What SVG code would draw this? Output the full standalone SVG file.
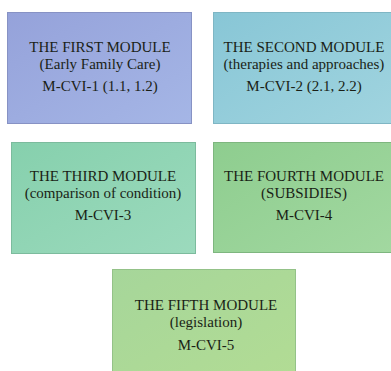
<svg xmlns="http://www.w3.org/2000/svg" width="391" height="371" viewBox="0 0 391 371">
<defs>
<linearGradient id="g1" x1="0" y1="0" x2="1" y2="1"><stop offset="0" stop-color="#95a2da"/><stop offset="1" stop-color="#a5b6e6"/></linearGradient>
<linearGradient id="g2" x1="0" y1="0" x2="1" y2="1"><stop offset="0" stop-color="#88c6d6"/><stop offset="1" stop-color="#a0d4df"/></linearGradient>
<linearGradient id="g3" x1="0" y1="0" x2="1" y2="1"><stop offset="0" stop-color="#86d0ad"/><stop offset="1" stop-color="#9cdabd"/></linearGradient>
<linearGradient id="g4" x1="0" y1="0" x2="1" y2="1"><stop offset="0" stop-color="#8ecd8f"/><stop offset="1" stop-color="#a2d8a0"/></linearGradient>
<linearGradient id="g5" x1="0" y1="0" x2="1" y2="1"><stop offset="0" stop-color="#a6d69a"/><stop offset="1" stop-color="#b2dc94"/></linearGradient>
</defs>
<style>
rect{stroke-width:1}
text{font-family:"Liberation Serif","Times New Roman",serif;font-size:15px;fill:#1a1f16;text-anchor:middle}
</style>
<rect width="391" height="371" fill="#ffffff"/>
<g id="connectors"/>
<g id="node1">
<rect x="7.5" y="12.5" width="184" height="111" fill="url(#g1)" stroke="#8792c4"/>
<text x="100" y="52">THE FIRST MODULE</text>
<text x="100" y="69">(Early Family Care)</text>
<text x="100" y="91">M-CVI-1 (1.1, 1.2)</text>
</g>
<g id="node2">
<rect x="213.5" y="12.5" width="178" height="111" fill="url(#g2)" stroke="#7fb6c4"/>
<text x="304" y="52">THE SECOND MODULE</text>
<text x="304" y="69">(therapies and approaches)</text>
<text x="304" y="91">M-CVI-2 (2.1, 2.2)</text>
</g>
<g id="node3">
<rect x="11.5" y="142.5" width="184" height="111" fill="url(#g3)" stroke="#7cbb9d"/>
<text x="103" y="181">THE THIRD MODULE</text>
<text x="103" y="198">(comparison of condition)</text>
<text x="103" y="220">M-CVI-3</text>
</g>
<g id="node4">
<rect x="213.5" y="142.5" width="178" height="110" fill="url(#g4)" stroke="#7eb67f"/>
<text x="304" y="181">THE FOURTH MODULE</text>
<text x="304" y="198">(SUBSIDIES)</text>
<text x="304" y="220">M-CVI-4</text>
</g>
<g id="node5">
<rect x="112.5" y="269.5" width="183" height="110" fill="url(#g5)" stroke="#94c288"/>
<text x="206" y="310">THE FIFTH MODULE</text>
<text x="206" y="327">(legislation)</text>
<text x="206" y="350">M-CVI-5</text>
</g>
</svg>
